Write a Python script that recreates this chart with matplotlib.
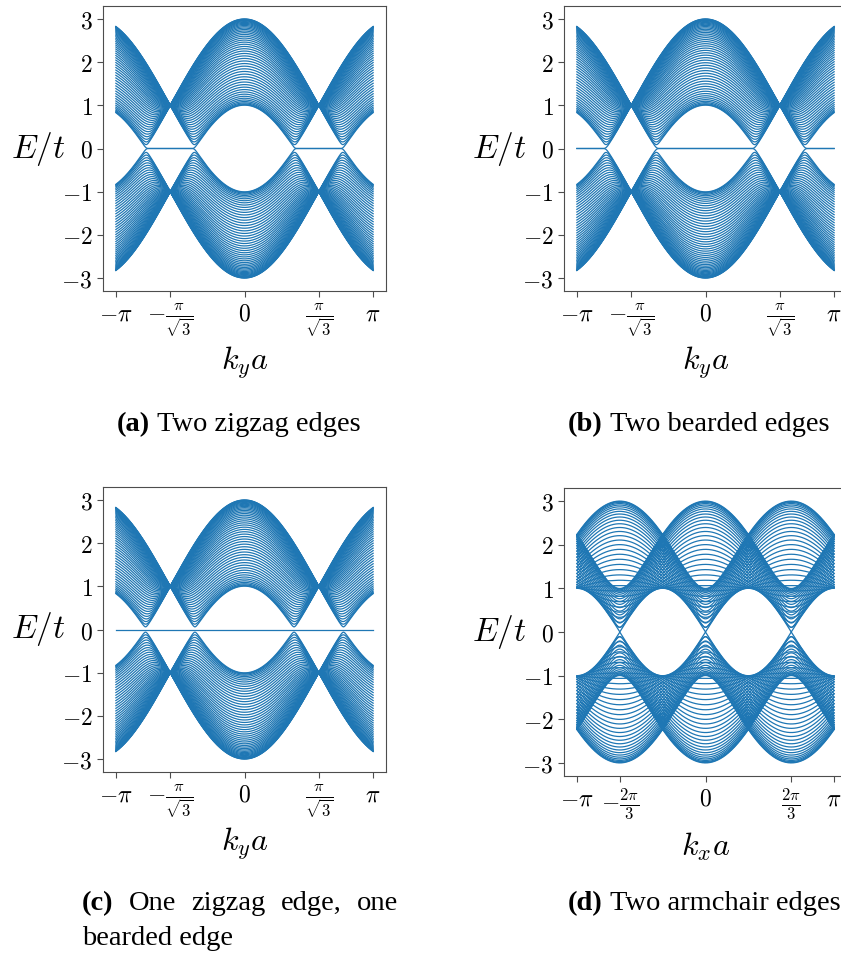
import numpy as np
import matplotlib
matplotlib.use("Agg")
import matplotlib.pyplot as plt

plt.rcParams['mathtext.fontset'] = 'cm'

# ribbon parameters
t_hop = 1.0
n_zigzag = 50      # zigzag chains across the ribbon
n_armchair = 50    # dimer lines across the ribbon (3M+2 -> metallic)
n_k = 600

k_range = np.linspace(-np.pi, np.pi, n_k)

ky_ticks = [-np.pi, -np.pi / np.sqrt(3), 0, np.pi / np.sqrt(3), np.pi]
ky_labels = [r'$-\pi$', r'$-\frac{\pi}{\sqrt{3}}$', r'$0$', r'$\frac{\pi}{\sqrt{3}}$', r'$\pi$']
kx_ticks = [-np.pi, -2 * np.pi / 3, 0, 2 * np.pi / 3, np.pi]
kx_labels = [r'$-\pi$', r'$-\frac{2\pi}{3}$', r'$0$', r'$\frac{2\pi}{3}$', r'$\pi$']
e_ticks = [-3, -2, -1, 0, 1, 2, 3]
e_labels = [r'$-3$', r'$-2$', r'$-1$', r'$0$', r'$1$', r'$2$', r'$3$']

letters = ["(a)", "(b)", "(c)", "(d)"]
captions = [["Two zigzag edges"], ["Two bearded edges"],
            ["One", "zigzag", "edge,", "one"], ["Two armchair edges"]]
caption_extra = ["", "", "bearded edge", ""]


def chain_bands(k, n, left_beard, right_beard):
    # zigzag-type ribbon written as a 1D chain with alternating couplings
    g = 2 * t_hop * np.cos(np.sqrt(3) * k / 2)
    couplings = []
    if left_beard:
        couplings.append(t_hop)
    for i in range(n):
        couplings.append(g)
        if i < n - 1:
            couplings.append(t_hop)
    if right_beard:
        couplings.append(t_hop)
    size = len(couplings) + 1
    h = np.zeros((size, size))
    for i, c in enumerate(couplings):
        h[i, i + 1] = c
        h[i + 1, i] = c
    return np.linalg.eigvalsh(h)


def armchair_bands(k, n):
    # two sites per dimer line, bloch phases from bond x-components
    h = np.zeros((2 * n, 2 * n), dtype=complex)
    for j in range(n):
        L, R = 2 * j, 2 * j + 1
        h[L, R] = t_hop * np.exp(1j * k)
        if j < n - 1:
            h[R, L + 2] = t_hop * np.exp(1j * k / 2)
            h[L, R + 2] = t_hop * np.exp(-1j * k / 2)
    h = h + h.conj().T
    return np.linalg.eigvalsh(h)


bands = [
    np.array([chain_bands(k, n_zigzag, False, False) for k in k_range]),
    np.array([chain_bands(k, n_zigzag, True, True) for k in k_range]),
    np.array([chain_bands(k, n_zigzag, False, True) for k in k_range]),
    np.array([armchair_bands(k, n_armchair) for k in k_range]),
]
bands = [np.round(b, 8) for b in bands]

fig = plt.figure(figsize=(8.41, 9.6), dpi=100)
W, H = 841.0, 960.0
# axes boxes in pixels: left, top, right, bottom
boxes = [(103, 6, 386, 291), (564, 6, 847, 291),
         (103, 487, 386, 772), (564, 488, 847, 776)]

for i, (box, e) in enumerate(zip(boxes, bands)):
    l, tp, r, b = box
    ax = fig.add_axes([l / W, 1 - b / H, (r - l) / W, (b - tp) / H])
    ax.plot(k_range, e, color='#1f77b4', lw=0.9)
    ax.set_yticks(e_ticks)
    ax.set_yticklabels(e_labels)
    if i == 3:
        ax.set_xticks(kx_ticks)
        ax.set_xticklabels(kx_labels)
        ax.set_xlabel(r'$k_xa$', fontsize=23)
    else:
        ax.set_xticks(ky_ticks)
        ax.set_xticklabels(ky_labels)
        ax.set_xlabel(r'$k_ya$', fontsize=23)
    ax.tick_params(labelsize=17, length=4, color='0.3')
    ax.set_ylabel(r'$E/t$', fontsize=24, rotation=0, ha='center', va='center')
    ax.yaxis.set_label_coords(-0.23, 0.5)
    ax.xaxis.set_label_coords(0.5, -0.19)
    for sp in ax.spines.values():
        sp.set_color('0.3')

# captions below each panel
cap_pos = [(117, 431), (568, 431), (82, 910), (568, 910)]
cap_size = 20.5
for (x, y), let, words, extra in zip(cap_pos, letters, captions, caption_extra):
    prev = fig.text(x / W, 1 - y / H, let, fontsize=cap_size, fontweight='bold',
                    family='Liberation Serif', va='baseline', ha='left')
    gap = 5.1 if len(words) == 1 else 10.9   # justified line gets wider gaps
    for w in words:
        prev = fig.add_artist(plt.Annotation(
            w, xy=(1, 0), xycoords=prev, xytext=(gap, 0), textcoords='offset points',
            fontsize=cap_size, family='Liberation Serif',
            va='bottom', ha='left', annotation_clip=False))
    if extra:
        fig.text(x / W, 1 - (y + 35) / H, extra, fontsize=cap_size,
                 family='Liberation Serif', va='baseline', ha='left')

fig.savefig('out.png', dpi=100)
